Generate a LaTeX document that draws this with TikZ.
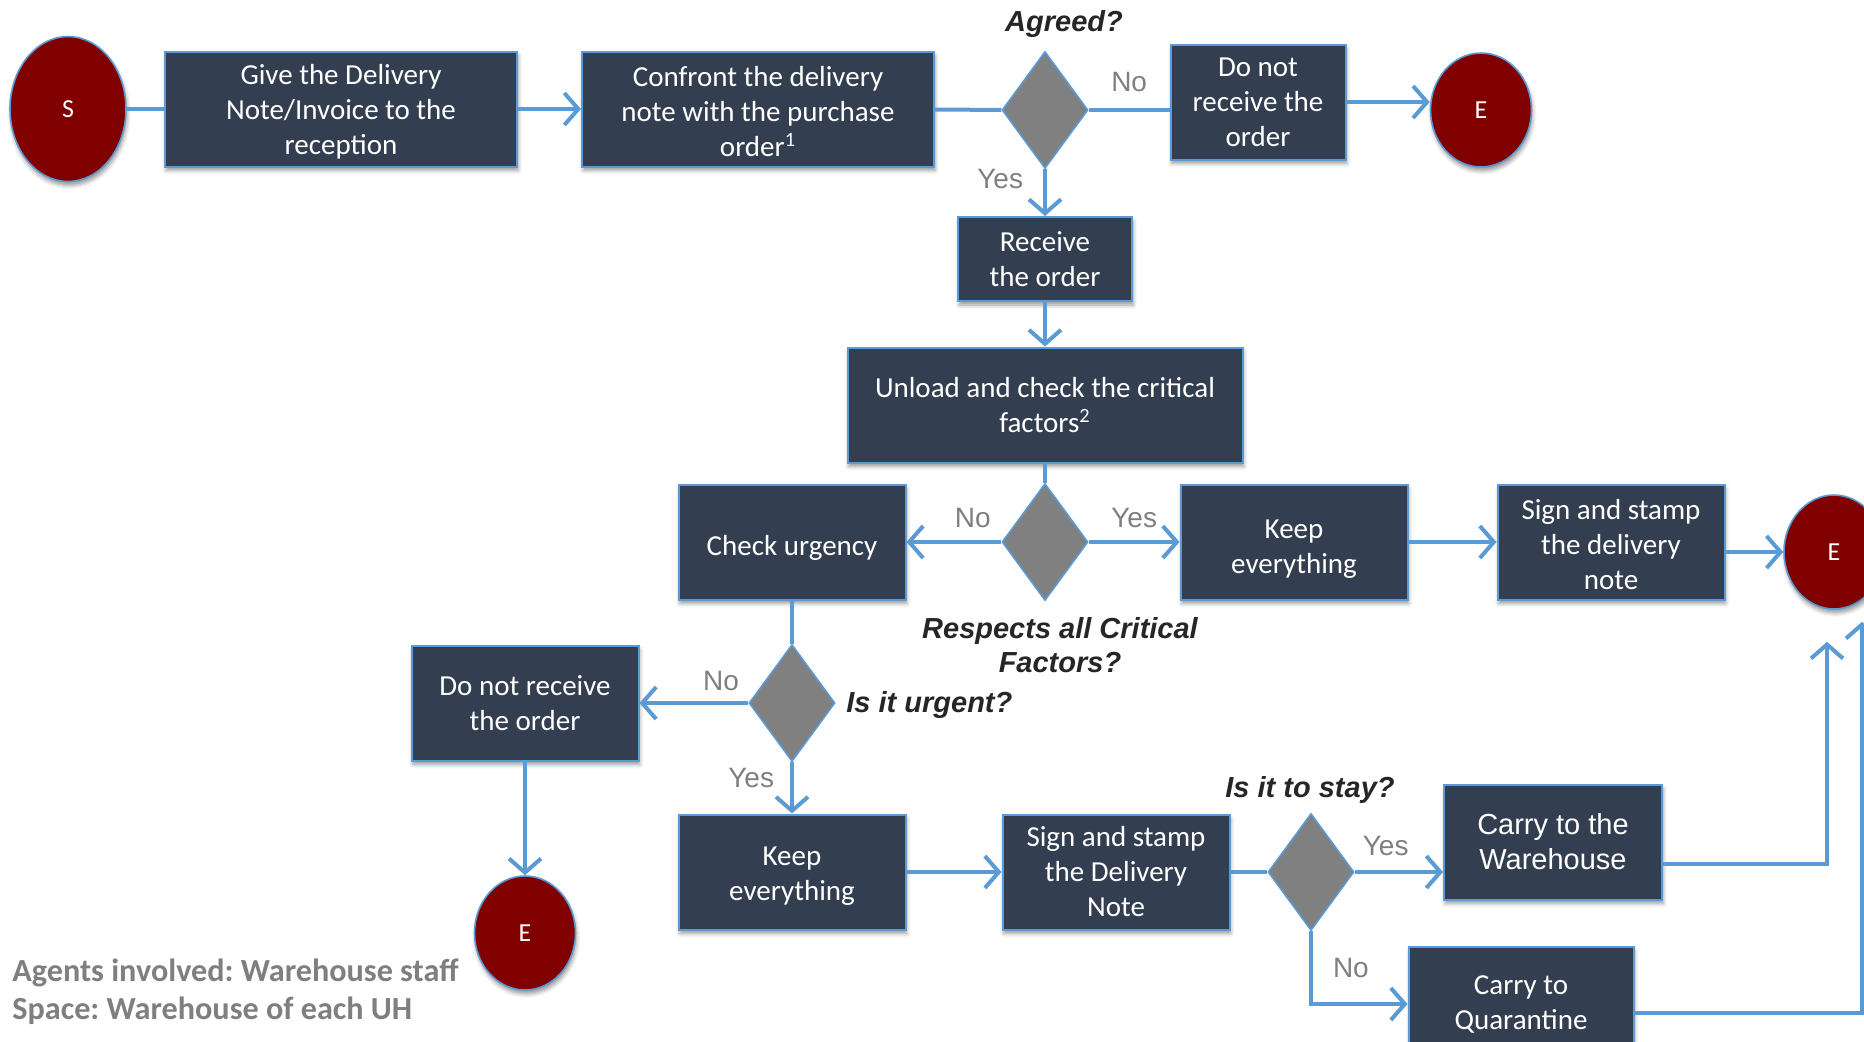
\documentclass[tikz,border=0pt]{standalone}
\usepackage{fontspec}
\setmainfont{Carlito}
\newfontfamily\arialfont{Liberation Sans}
\usetikzlibrary{shapes.geometric,arrows.meta,shadows.blur}
\definecolor{boxfill}{HTML}{333F50}
\definecolor{edgeblue}{HTML}{5B9BD5}
\definecolor{endred}{HTML}{800000}
\definecolor{decgray}{HTML}{808080}
\definecolor{labgray}{HTML}{7F7F7F}
\newcommand{\sink}[1]{\rule{0pt}{#1}}
\frenchspacing

\begin{document}
\begin{tikzpicture}[x=0.5pt,y=-0.5pt]
        \tikzstyle{task} = [rectangle,draw=edgeblue,line width=1pt,fill=boxfill,text=white,align=center,inner sep=0pt,font=\fontsize{14.5}{17.5}\selectfont,minimum width=113.5pt,minimum height=57.5pt,blur shadow={shadow xshift=0.6pt,shadow yshift=-2pt,shadow blur radius=2pt}]
        \tikzstyle{terminal} = [ellipse,draw=edgeblue,line width=0.8pt,fill=endred,text=white,inner sep=0pt,font=\fontsize{13}{15}\selectfont,minimum width=50.5pt,minimum height=57pt,blur shadow={shadow xshift=0.6pt,shadow yshift=-2pt,shadow blur radius=2pt}]
        \tikzstyle{decision} = [diamond,draw=edgeblue,line width=0.8pt,fill=decgray,inner sep=0pt,minimum width=43pt,minimum height=58.5pt]
        \tikzstyle{flow} = [draw=edgeblue,line width=2pt,-{Straight Barb[length=7pt,width=16pt,line width=2pt]}]
        \tikzstyle{link} = [draw=edgeblue,line width=2pt]
        \tikzstyle{answer} = [text=labgray,inner sep=4pt,font=\arialfont\fontsize{14}{16}\selectfont]
        \tikzstyle{question} = [text=black!85,align=center,inner sep=0pt,font=\arialfont\bfseries\itshape\fontsize{14.5}{17.2}\selectfont]

        \useasboundingbox (0,0) rectangle (1864,1041);
        \clip (0,0) rectangle (1864,1041);

        % first row
        \node[terminal,minimum width=58pt,minimum height=72.5pt] (S) at (68,109) {S};
        \node[task,minimum width=176pt] (give) at (341,109) {\sink{13pt}Give the Delivery\\Note/Invoice to the\\reception};
        \node[task,minimum width=176pt] (confront) at (758,109) {\sink{13pt}Confront the delivery\\note with the purchase\\order\textsuperscript{1}};
        \node[decision] (agreed) at (1045,110) {};
        \node[task,minimum width=87.5pt] (refuse) at (1258,102) {Do not\\receive the\\order};
        \node[terminal] (end1) at (1481,110) {E};
        \node[question] (qagreed) at (1064,24) {Agreed?};

        % receiving
        \node[task,minimum width=87pt,minimum height=42pt] (receive) at (1045,259) {Receive\\the order};
        \node[task,minimum width=197.5pt] (unload) at (1045,405) {Unload and check the critical\\factors\textsuperscript{2}};
        \node[decision] (critical) at (1045,542) {};
        \node[question] (qcritical) at (1060,645) {Respects all Critical\\Factors?};
        \node[task] (urgency) at (792,542) {\sink{16pt}Check urgency};
        \node[task] (keepA) at (1294,542) {\sink{16pt}Keep\\everything};
        \node[task] (signA) at (1611,542) {\sink{13pt}Sign and stamp\\the delivery\\note};
        \node[terminal,minimum width=50pt] (end2) at (1834,552) {E};

        % urgency
        \node[decision] (urgent) at (792,703) {};
        \node[question,anchor=west] (qurgent) at (846,705) {Is it urgent?};
        \node[task] (refuseB) at (525,703) {Do not receive\\the order};
        \node[terminal] (end3) at (525,933) {E};
        \node[task] (keepB) at (792,872) {\sink{13pt}Keep\\everything};
        \node[task] (signB) at (1116,872) {Sign and stamp\\the Delivery\\Note};
        \node[decision] (stay) at (1311,872) {};
        \node[question] (qstay) at (1310,790) {Is it to stay?};
        \node[task,minimum width=109pt,font=\arialfont\fontsize{14.5}{17.5}\selectfont] (warehouse) at (1553,842) {Carry to the\\Warehouse};
        \node[task,minimum width=112.5pt] (quarantine) at (1521,1004) {Carry to\\Quarantine};

        \node[anchor=west,align=left,inner sep=0pt,text=labgray,font=\bfseries\fontsize{16.1}{19}\selectfont] (agents) at (12,992) {Agents involved: Warehouse staff\\Space: Warehouse of each UH};

        \draw[link] (S) -- (give);
        \draw[flow] (give) -- (confront);
        \draw[link] (confront) -- (agreed);
        \draw[link] (agreed.east) -- node[answer,above,yshift=4pt] {No} (agreed.east -| refuse.west);
        \draw[flow] (refuse) -- (refuse -| end1.west);
        \draw[flow] (agreed) -- node[answer,left,pos=0.2,xshift=-6pt] {Yes} (receive);
        \draw[flow] (receive) -- (unload);
        \draw[link] (unload) -- (critical);
        \draw[flow] (critical) -- node[answer,above,pos=0.3,yshift=2pt] {No} (urgency);
        \draw[flow] (critical) -- node[answer,above,yshift=2pt] {Yes} (keepA);
        \draw[flow] (keepA) -- (signA);
        \draw[flow] (signA.east |- end2) -- (end2);

        \draw[link] (urgency) -- (urgent);
        \draw[flow] (urgent) -- node[answer,above,pos=0.25,yshift=1pt] {No} (refuseB);
        \draw[flow] (urgent) -- node[answer,left,pos=0.3,xshift=-4pt] {Yes} (keepB);
        \draw[flow] (refuseB) -- (end3);
        \draw[flow] (keepB) -- (signB);
        \draw[link] (signB) -- (stay);
        \draw[flow] (stay) -- node[answer,above,pos=0.35,yshift=3pt] {Yes} (stay -| warehouse.west);
        \draw[flow] (stay.south) |- node[answer,right,pos=0.25,xshift=6pt] {No} (quarantine.west);
        \draw[flow,shorten >=16pt] ([yshift=-11pt]warehouse.east) -| ([xshift=-3.5pt]end2.south);
        \draw[flow,shorten >=6pt] ([yshift=-4.5pt]quarantine.east) -| ([xshift=14pt]end2.south);
\end{tikzpicture}
\end{document}
